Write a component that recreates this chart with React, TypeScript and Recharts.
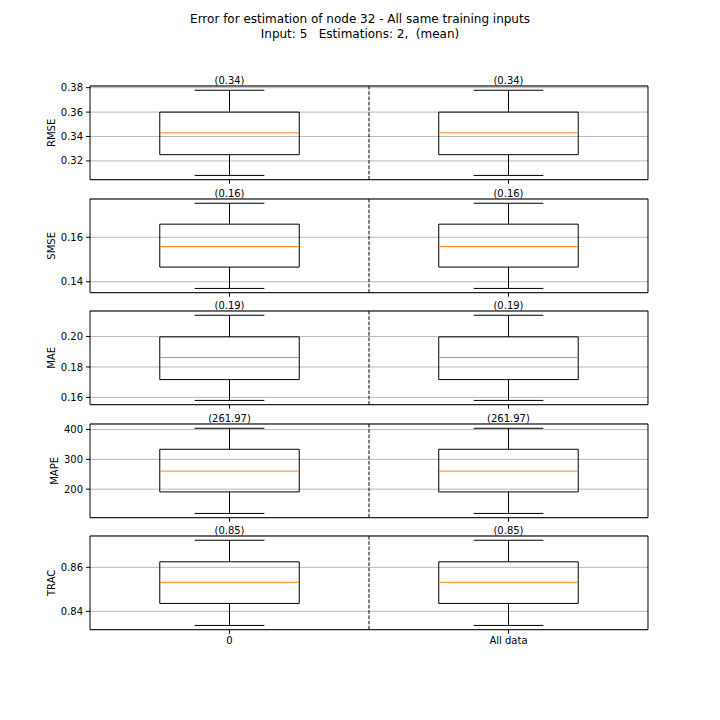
import React from "react";
import {
  ComposedChart,
  XAxis,
  YAxis,
  CartesianGrid,
  ReferenceArea,
  ReferenceLine,
  ReferenceDot,
  Line,
} from "recharts";

const metrics = ["RMSE", "SMSE", "MAE", "MAPE", "TRAC"];
const groups = ["0", "All data"];

// box statistics per metric (both groups show the same values)
const whiskerLow = [0.3081, 0.137, 0.158, 118.6, 0.8336];
const q1 = [0.3251, 0.1466, 0.1717, 190.8, 0.8436];
const medians = [0.343, 0.1558, 0.1862, 260.7, 0.8532];
const q3 = [0.36, 0.1659, 0.1998, 333.9, 0.8625];
const whiskerHigh = [0.3779, 0.1753, 0.214, 404.4, 0.8723];
const meanLabels = ["0.34", "0.16", "0.19", "261.97", "0.85"];

const yTicks = [
  [0.32, 0.34, 0.36, 0.38],
  [0.14, 0.16],
  [0.16, 0.18, 0.2],
  [200, 300, 400],
  [0.84, 0.86],
];

const FONT = "DejaVu Sans, sans-serif";
const PANEL_TOP = 86.4;
const PANEL_H = 93.7;
const PANEL_STEP = 112.45;
const MARGIN_TOP = 20;
const X_AXIS_H = 30;

const fmt = (v: number) => (Math.abs(v) >= 10 ? String(Math.round(v)) : v.toFixed(2));

const textWidth = (s: string) =>
  s.split("").reduce((w, c) => w + (c === "." ? 3.18 : 6.36), 0);

const Panel = ({ idx }: { idx: number }) => {
  const lo = whiskerLow[idx];
  const hi = whiskerHigh[idx];
  const pad = (hi - lo) * 0.05;
  const domain: [number, number] = [lo - pad, hi + pad];
  const last = idx === metrics.length - 1;
  const data = groups.map((g, i) => ({ x: i + 1, m: medians[idx] }));
  const labelW = Math.max(...yTicks[idx].map((t) => textWidth(fmt(t))));
  const labelX = 83 - labelW - 9;

  return (
    <div
      style={{
        position: "absolute",
        left: 0,
        top: PANEL_TOP + idx * PANEL_STEP - MARGIN_TOP,
      }}
    >
      <ComposedChart
        width={720}
        height={MARGIN_TOP + PANEL_H + X_AXIS_H}
        data={data}
        margin={{ top: MARGIN_TOP, right: 72, bottom: 0, left: 40 }}
      >
        <CartesianGrid vertical={false} stroke="#b8b8b8" strokeWidth={1} />
        <XAxis
          dataKey="x"
          type="number"
          domain={[0.5, 2.5]}
          ticks={[1, 2]}
          allowDataOverflow
          height={X_AXIS_H}
          axisLine={false}
          tickSize={4}
          tickMargin={3}
          tickLine={{ stroke: "#000" }}
          tickFormatter={(v: number) => (last ? groups[v - 1] : "")}
          tick={{ fontSize: 10, fill: "#000", fontFamily: FONT }}
        />
        <YAxis
          type="number"
          domain={domain}
          ticks={yTicks[idx]}
          allowDataOverflow
          width={50}
          axisLine={false}
          tickSize={4}
          tickMargin={3}
          tickLine={{ stroke: "#000" }}
          tickFormatter={fmt}
          tick={{ fontSize: 10, fill: "#000", fontFamily: FONT }}
          label={(p: any) => {
            const vb = p.viewBox || {};
            const cy = (vb.y ?? MARGIN_TOP) + (vb.height ?? PANEL_H) / 2;
            return (
              <text
                x={labelX}
                y={cy}
                transform={`rotate(-90 ${labelX} ${cy})`}
                textAnchor="middle"
                dominantBaseline="central"
                fontSize={10}
                fontFamily={FONT}
                fill="#000"
              >
                {metrics[idx]}
              </text>
            );
          }}
        />
        <Line
          dataKey="m"
          stroke="none"
          dot={false}
          activeDot={false}
          isAnimationActive={false}
        />
        <ReferenceLine x={1.5} stroke="#000" strokeWidth={1} strokeDasharray="3.7 1.6" />
        {groups.map((g, i) => {
          const pos = i + 1;
          return (
            <React.Fragment key={g}>
              <ReferenceLine
                segment={[{ x: pos, y: q3[idx] }, { x: pos, y: whiskerHigh[idx] }]}
                stroke="#000"
                strokeWidth={1}
              />
              <ReferenceLine
                segment={[{ x: pos, y: q1[idx] }, { x: pos, y: whiskerLow[idx] }]}
                stroke="#000"
                strokeWidth={1}
              />
              <ReferenceLine
                segment={[
                  { x: pos - 0.125, y: whiskerHigh[idx] },
                  { x: pos + 0.125, y: whiskerHigh[idx] },
                ]}
                stroke="#000"
                strokeWidth={1}
              />
              <ReferenceLine
                segment={[
                  { x: pos - 0.125, y: whiskerLow[idx] },
                  { x: pos + 0.125, y: whiskerLow[idx] },
                ]}
                stroke="#000"
                strokeWidth={1}
              />
              <ReferenceArea
                x1={pos - 0.25}
                x2={pos + 0.25}
                y1={q1[idx]}
                y2={q3[idx]}
                fill="none"
                fillOpacity={0}
                stroke="#000"
                strokeWidth={1}
                strokeOpacity={1}
              />
              <ReferenceLine
                segment={[
                  { x: pos - 0.25, y: medians[idx] },
                  { x: pos + 0.25, y: medians[idx] },
                ]}
                stroke="#ff7f0e"
                strokeWidth={1}
              />
              <ReferenceDot
                x={pos}
                y={domain[1]}
                r={0}
                ifOverflow="visible"
                stroke="none"
                fill="none"
                label={{
                  value: `(${meanLabels[idx]})`,
                  position: "top",
                  offset: 2,
                  fontSize: 10,
                  fill: "#000",
                  fontFamily: FONT,
                }}
              />
            </React.Fragment>
          );
        })}
        <ReferenceArea
          x1={0.5}
          x2={2.5}
          y1={domain[0]}
          y2={domain[1]}
          ifOverflow="visible"
          fill="none"
          fillOpacity={0}
          stroke="#000"
          strokeWidth={1}
          strokeOpacity={1}
        />
      </ComposedChart>
    </div>
  );
};

const App = () => {
  return (
    <div
      style={{
        position: "absolute",
        left: 0,
        top: 0,
        width: 720,
        height: 720,
        background: "#fff",
        fontFamily: FONT,
      }}
    >
      <div
        style={{
          position: "absolute",
          top: 11.5,
          left: 0,
          width: 720,
          textAlign: "center",
          fontSize: 12,
          lineHeight: "15px",
          color: "#000",
        }}
      >
        <div>Error for estimation of node 32 - All same training inputs</div>
        <div style={{ whiteSpace: "pre" }}>Input: 5   Estimations: 2,  (mean)</div>
      </div>
      {metrics.map((m, i) => (
        <Panel key={m} idx={i} />
      ))}
    </div>
  );
};

export default App;
